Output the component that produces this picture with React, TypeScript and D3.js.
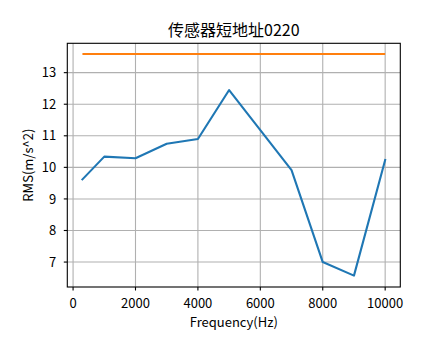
import React from "react";
import * as d3 from "d3";

const freqs = [300, 1000, 2000, 3000, 4000, 5000, 6000, 7000, 8000, 9000, 10000];
const rms = [9.62, 10.34, 10.29, 10.75, 10.9, 12.45, 11.18, 9.91, 7.0, 6.57, 10.23];
const thresholdX = [300, 10000];
const thresholdY = [13.59, 13.59];
const xTicks = [0, 2000, 4000, 6000, 8000, 10000];
const yTicks = [7, 8, 9, 10, 11, 12, 13];
const title = "传感器短地址0220";
const xLabel = "Frequency(Hz)";
const yLabel = "RMS(m/s^2)";

const W = 444, H = 359;
const L = 67.3, R = 400.3, T = 43.3, B = 287;
const FONT = "'Noto Sans CJK SC', sans-serif";

export default function App() {
  const x = d3.scaleLinear().domain([-185, 10485]).range([L, R]);
  const y = d3.scaleLinear().domain([6.21, 13.93]).range([B, T]);
  const line = d3.line<[number, number]>().x(d => x(d[0])).y(d => y(d[1]));
  const blue = freqs.map((f, i) => [f, rms[i]] as [number, number]);
  const orange = thresholdX.map((f, i) => [f, thresholdY[i]] as [number, number]);
  return (
    <svg width={W} height={H} style={{ position: "absolute", left: 0, top: 0, background: "#fff" }}>
      <rect x={0} y={0} width={W} height={H} fill="#fff" />
      <g stroke="#b0b0b0" strokeWidth={1.1}>
        {xTicks.map(t => <line key={"gx" + t} x1={x(t)} x2={x(t)} y1={T} y2={B} />)}
        {yTicks.map(t => <line key={"gy" + t} x1={L} x2={R} y1={y(t)} y2={y(t)} />)}
      </g>
      <path d={line(orange) || ""} fill="none" stroke="#ff7f0e" strokeWidth={2.1} />
      <path d={line(blue) || ""} fill="none" stroke="#1f77b4" strokeWidth={2.1} strokeLinejoin="round" strokeLinecap="square" />
      <rect x={L} y={T} width={R - L} height={B - T} fill="none" stroke="#000" strokeWidth={1.1} />
      <g fontFamily={FONT} fontSize={13} fill="#000">
        {xTicks.map(t => (
          <g key={"tx" + t}>
            <line x1={x(t)} x2={x(t)} y1={B} y2={B + 3.5} stroke="#000" strokeWidth={1.1} />
            <text x={x(t)} y={B + 21} textAnchor="middle">{t}</text>
          </g>
        ))}
        {yTicks.map(t => (
          <g key={"ty" + t}>
            <line x1={L - 3.5} x2={L} y1={y(t)} y2={y(t)} stroke="#000" strokeWidth={1.1} />
            <text x={L - 11} y={y(t) + 4.7} textAnchor="end">{t}</text>
          </g>
        ))}
        <text x={(L + R) / 2} y={327} textAnchor="middle">{xLabel}</text>
        <text transform={`translate(32.5,${(T + B) / 2}) rotate(-90)`} textAnchor="middle">{yLabel}</text>
      </g>
      <text x={(L + R) / 2} y={36} textAnchor="middle" fontFamily={FONT} fontSize={16}>{title}</text>
    </svg>
  );
}
